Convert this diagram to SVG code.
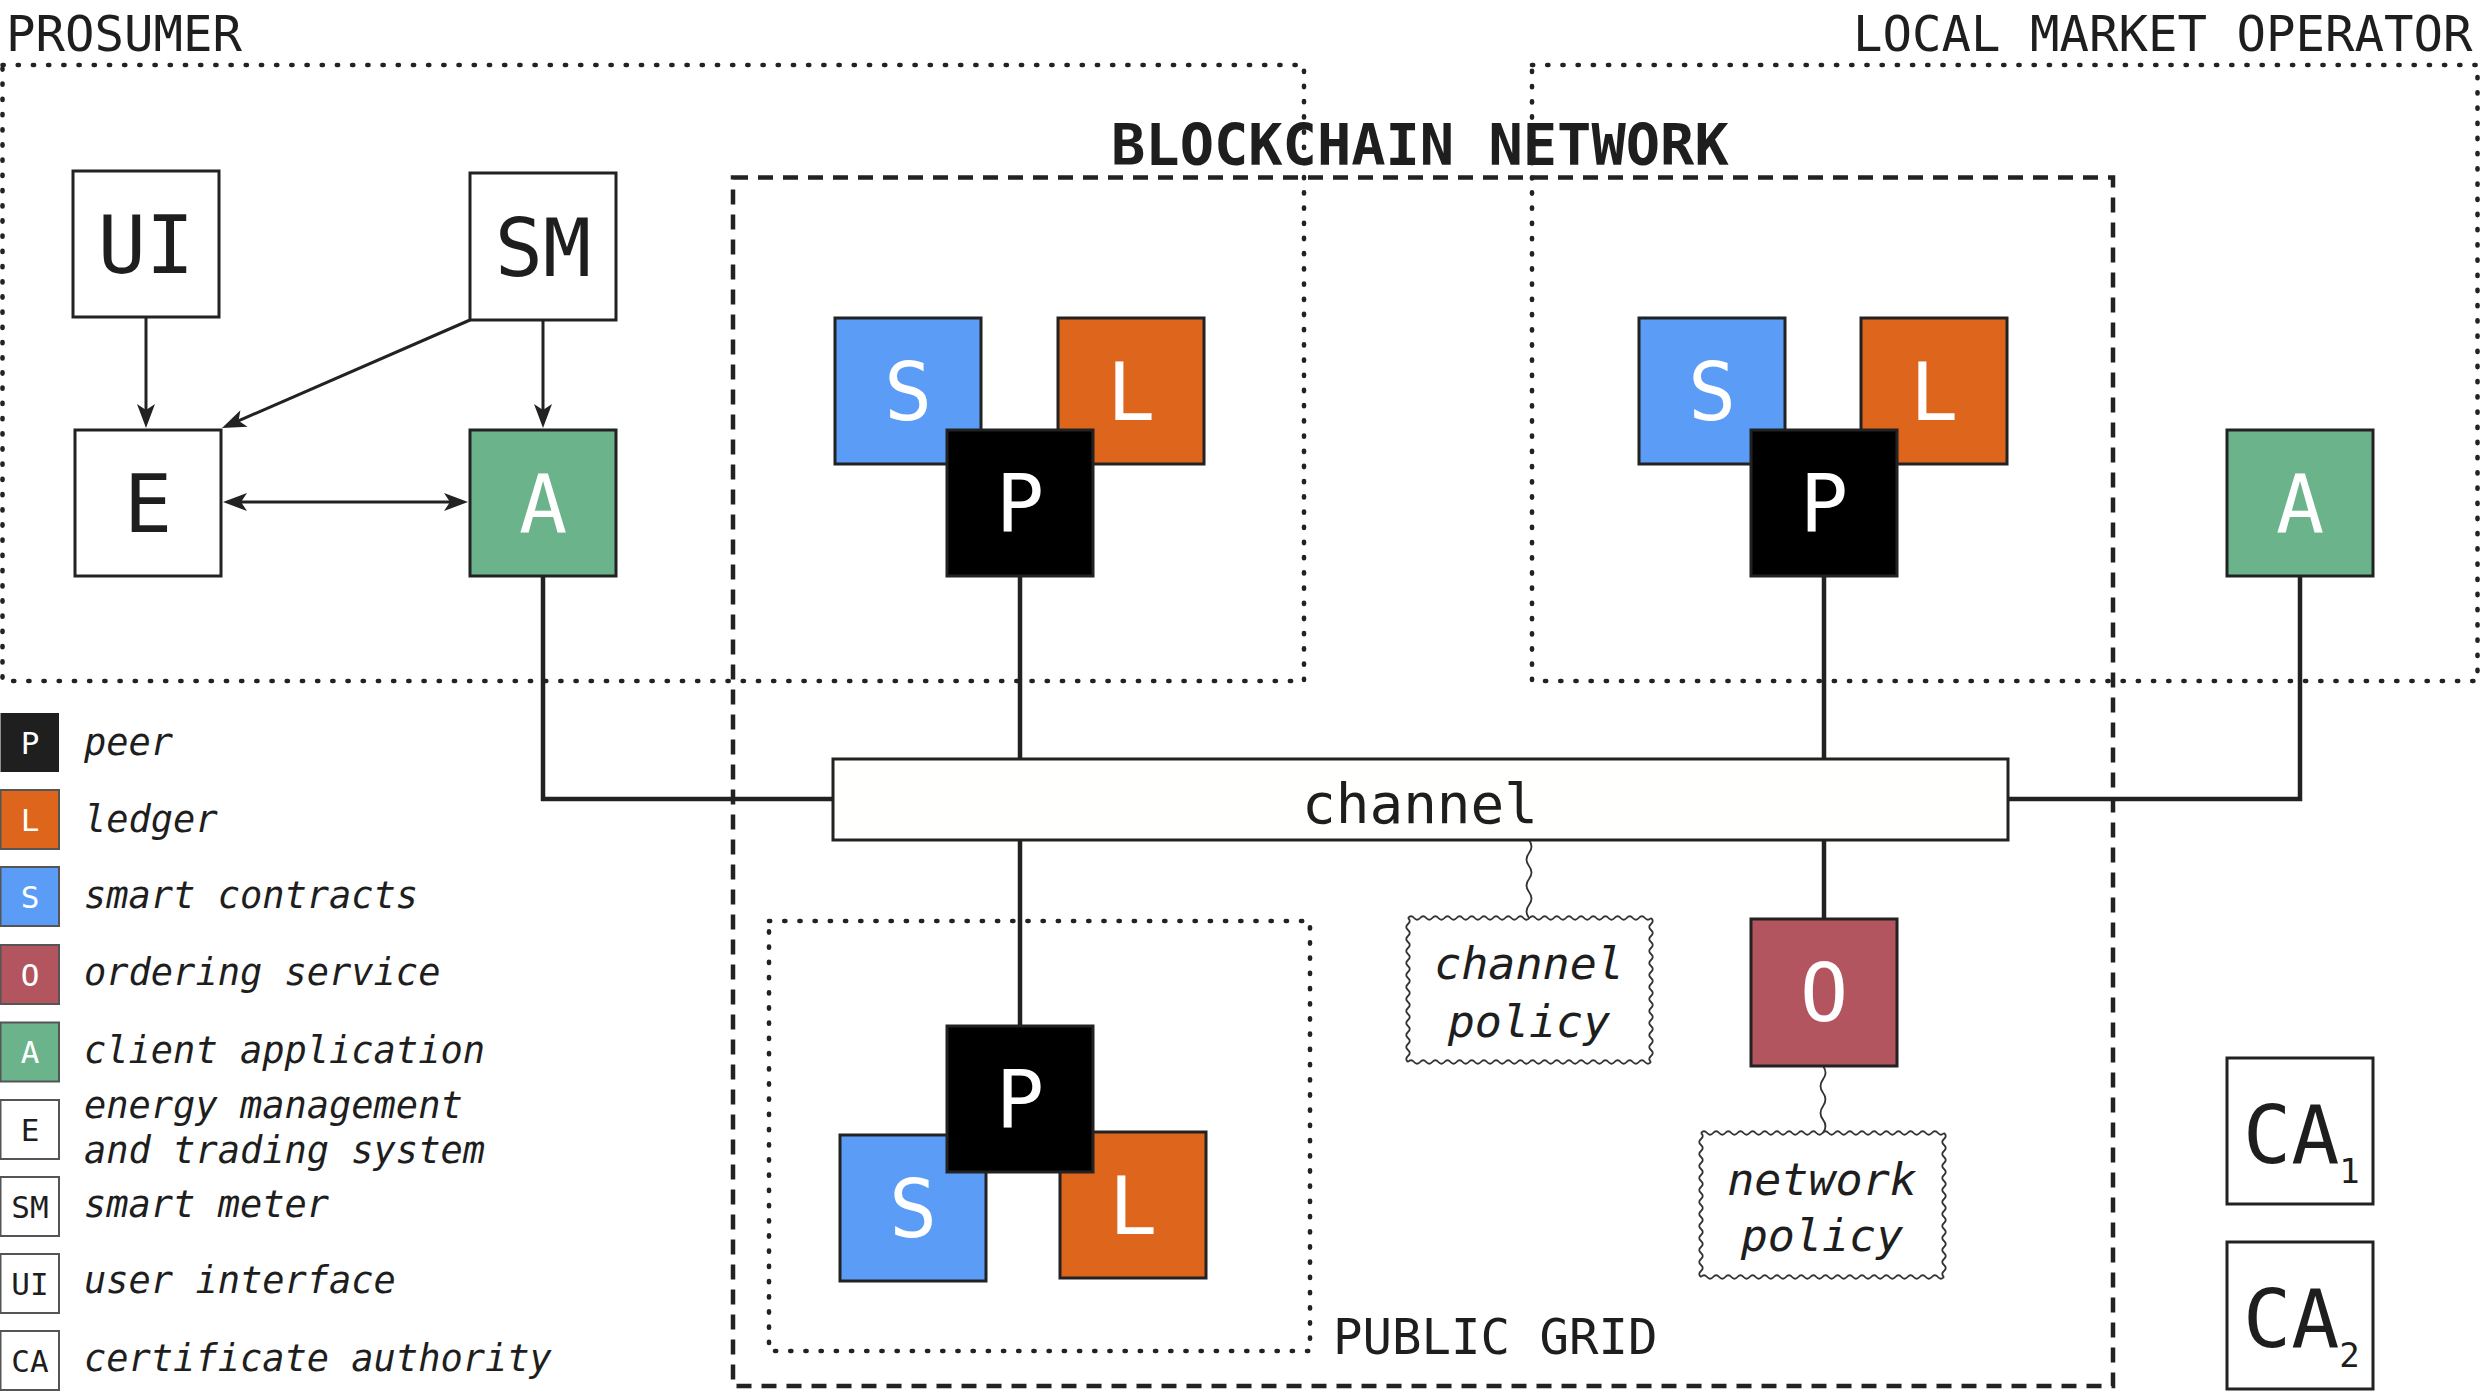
<svg xmlns="http://www.w3.org/2000/svg" xmlns:xlink="http://www.w3.org/1999/xlink" width="2480" height="1393" viewBox="0 0 2480 1393">
<style>
text{font-family:"DejaVu Sans Mono","Liberation Mono",monospace;fill:#1e1e1e}
.title{font-size:49px}
.bold{font-size:57px;font-weight:bold}
.big{font-size:80px;text-anchor:middle}
.w{fill:#ffffff}
.leg{font-size:31px;text-anchor:middle}
.it{font-size:37px;font-style:italic}
.pol{font-size:45px;font-style:italic;text-anchor:middle}
.box{stroke:#222;stroke-width:3}
.lbox{stroke:#555;stroke-width:2}
.dot{fill:none;stroke:#222;stroke-width:4.6;stroke-dasharray:1.2 14;stroke-linecap:round}
.dash{fill:none;stroke:#222;stroke-width:4.5;stroke-dasharray:15 10}
.thick{fill:none;stroke:#222;stroke-width:4.5}
.arrow{fill:none;stroke:#222;stroke-width:3}
.wave{fill:none;stroke:#333;stroke-width:1.8}
.blue{fill:#5B9CF6}.orange{fill:#DD661C}.black{fill:#000}.green{fill:#6BB48B}.red{fill:#B3555F}.white{fill:#fff}
</style>
<defs>
<marker id="arr" viewBox="-20 -10 26 20" markerWidth="26" markerHeight="20" refX="0" refY="0" orient="auto-start-reverse" markerUnits="userSpaceOnUse"><path d="M6,0 L-18,-9 L-12,0 L-18,9 Z" fill="#222"/></marker>
<path id="wh" d="M0,0 q3.04,-3.5 6.075,0 t6.075,0 t6.075,0 t6.075,0 t6.075,0 t6.075,0 t6.075,0 t6.075,0 t6.075,0 t6.075,0 t6.075,0 t6.075,0 t6.075,0 t6.075,0 t6.075,0 t6.075,0 t6.075,0 t6.075,0 t6.075,0 t6.075,0 t6.075,0 t6.075,0 t6.075,0 t6.075,0 t6.075,0 t6.075,0 t6.075,0 t6.075,0 t6.075,0 t6.075,0 t6.075,0 t6.075,0 t6.075,0 t6.075,0 t6.075,0 t6.075,0 t6.075,0 t6.075,0 t6.075,0 t6.075,0"/>
<path id="wv" d="M0,0 q3.5,3 0,6 t0,6 t0,6 t0,6 t0,6 t0,6 t0,6 t0,6 t0,6 t0,6 t0,6 t0,6 t0,6 t0,6 t0,6 t0,6 t0,6 t0,6 t0,6 t0,6 t0,6 t0,6 t0,6 t0,6"/>
</defs>
<rect width="2480" height="1393" fill="#fff"/>

<g id="groups">
<rect class="dot" x="2.5" y="65" width="1301.5" height="616"/>
<rect class="dot" x="1532" y="65" width="945.5" height="616"/>
<rect class="dash" x="733" y="177.5" width="1380" height="1208.5"/>
<rect class="dot" x="769" y="921" width="541" height="430"/>
<text class="title" x="6" y="51">PROSUMER</text>
<text class="title" x="1853" y="51">LOCAL MARKET OPERATOR</text>
<text class="bold" x="1111" y="165">BLOCKCHAIN NETWORK</text>
<text class="title" x="1333" y="1354">PUBLIC GRID</text>
</g>

<g id="connectors">
<path class="arrow" d="M146,317 V422" marker-end="url(#arr)"/>
<path class="arrow" d="M543,320 V422" marker-end="url(#arr)"/>
<path class="arrow" d="M470,320 L227.5,425.6" marker-end="url(#arr)"/>
<path class="arrow" d="M229,502 H462" marker-start="url(#arr)" marker-end="url(#arr)"/>
<path class="thick" d="M543,576 V799 H833"/>
<path class="thick" d="M1020,576 V759"/>
<path class="thick" d="M1824,576 V759"/>
<path class="thick" d="M2300,576 V799 H2008"/>
<path class="thick" d="M1020,840 V1026"/>
<path class="thick" d="M1824,840 V919"/>
<path class="wave" d="M1529,840 q5,6.5 0,13 t0,13 t0,13 t0,13 t0,13 t0,13"/>
<path class="wave" d="M1823,1066 q5,6.7 0,13.4 t0,13.4 t0,13.4 t0,13.4 t0,13.4"/>
</g>

<g id="node-UI"><rect class="box white" x="73" y="171" width="146" height="146"/><text class="big" x="146" y="273">UI</text></g>
<g id="node-SM"><rect class="box white" x="470" y="173" width="146" height="147"/><text class="big" x="543" y="276">SM</text></g>
<g id="node-E"><rect class="box white" x="75" y="430" width="146" height="146"/><text class="big" x="148" y="532">E</text></g>
<g id="node-A1"><rect class="box green" x="470" y="430" width="146" height="146"/><text class="big w" x="543" y="532">A</text></g>

<g id="node-S1"><rect class="box blue" x="835" y="318" width="146" height="146"/><text class="big w" x="908" y="420">S</text></g>
<g id="node-L1"><rect class="box orange" x="1058" y="318" width="146" height="146"/><text class="big w" x="1131" y="420">L</text></g>
<g id="node-P1"><rect class="box black" x="947" y="430" width="146" height="146"/><text class="big w" x="1020" y="532">P</text></g>

<g id="node-S2"><rect class="box blue" x="1639" y="318" width="146" height="146"/><text class="big w" x="1712" y="420">S</text></g>
<g id="node-L2"><rect class="box orange" x="1861" y="318" width="146" height="146"/><text class="big w" x="1934" y="420">L</text></g>
<g id="node-P2"><rect class="box black" x="1751" y="430" width="146" height="146"/><text class="big w" x="1824" y="532">P</text></g>

<g id="node-A2"><rect class="box green" x="2227" y="430" width="146" height="146"/><text class="big w" x="2300" y="532">A</text></g>

<g id="node-channel"><rect class="box" fill="#fffffd" x="833" y="759" width="1175" height="81"/><text x="1302" y="823" style="font-size:56px">channel</text></g>

<g id="node-S3"><rect class="box blue" x="840" y="1135" width="146" height="146"/><text class="big w" x="913" y="1237">S</text></g>
<g id="node-L3"><rect class="box orange" x="1060" y="1132" width="146" height="146"/><text class="big w" x="1133" y="1234">L</text></g>
<g id="node-P3"><rect class="box black" x="947" y="1026" width="146" height="146"/><text class="big w" x="1020" y="1128">P</text></g>

<g id="node-O"><rect class="box red" x="1751" y="919" width="146" height="147"/><text class="big w" x="1824" y="1021">O</text></g>

<g id="node-channel-policy">
<use xlink:href="#wh" class="wave" x="1408" y="918"/>
<use xlink:href="#wh" class="wave" x="1408" y="1062"/>
<use xlink:href="#wv" class="wave" x="1408" y="918"/>
<use xlink:href="#wv" class="wave" x="1651" y="918"/>
<text class="pol" x="1529" y="979">channel</text>
<text class="pol" x="1529" y="1037">policy</text>
</g>

<g id="node-network-policy">
<use xlink:href="#wh" class="wave" x="1701" y="1133"/>
<use xlink:href="#wh" class="wave" x="1701" y="1277"/>
<use xlink:href="#wv" class="wave" x="1701" y="1133"/>
<use xlink:href="#wv" class="wave" x="1944" y="1133"/>
<text class="pol" x="1822" y="1195">network</text>
<text class="pol" x="1822" y="1251">policy</text>
</g>

<g id="node-CA1"><rect class="box white" x="2227" y="1058" width="146" height="146"/><text x="2243" y="1163" style="font-size:80px">CA<tspan style="font-size:34px" dy="20">1</tspan></text></g>
<g id="node-CA2"><rect class="box white" x="2227" y="1242" width="146" height="147"/><text x="2243" y="1347" style="font-size:80px">CA<tspan style="font-size:34px" dy="20">2</tspan></text></g>

<g id="legend">
<rect x="0.5" y="713" width="58.5" height="59" fill="#1f1f1f"/><text class="leg w" x="30" y="754">P</text><text class="it" x="84" y="755">peer</text>
<rect class="lbox orange" x="0.5" y="790" width="58.5" height="59"/><text class="leg w" x="30" y="831">L</text><text class="it" x="84" y="832">ledger</text>
<rect class="lbox blue" x="0.5" y="867" width="58.5" height="59"/><text class="leg w" x="30" y="908">S</text><text class="it" x="84" y="908">smart contracts</text>
<rect class="lbox red" x="0.5" y="945" width="58.5" height="59"/><text class="leg w" x="30" y="986">O</text><text class="it" x="84" y="985">ordering service</text>
<rect class="lbox green" x="0.5" y="1022.5" width="58.5" height="59"/><text class="leg w" x="30" y="1063">A</text><text class="it" x="84" y="1063">client application</text>
<rect class="lbox white" x="0.5" y="1100" width="58.5" height="59"/><text class="leg" x="30" y="1141">E</text><text class="it" x="84" y="1118">energy management</text><text class="it" x="84" y="1163">and trading system</text>
<rect class="lbox white" x="0.5" y="1177" width="58.5" height="59"/><text class="leg" x="30" y="1218">SM</text><text class="it" x="84" y="1217">smart meter</text>
<rect class="lbox white" x="0.5" y="1254" width="58.5" height="59"/><text class="leg" x="30" y="1295">UI</text><text class="it" x="84" y="1293">user interface</text>
<rect class="lbox white" x="0.5" y="1331" width="58.5" height="59"/><text class="leg" x="30" y="1372">CA</text><text class="it" x="84" y="1371">certificate authority</text>
</g>
</svg>
